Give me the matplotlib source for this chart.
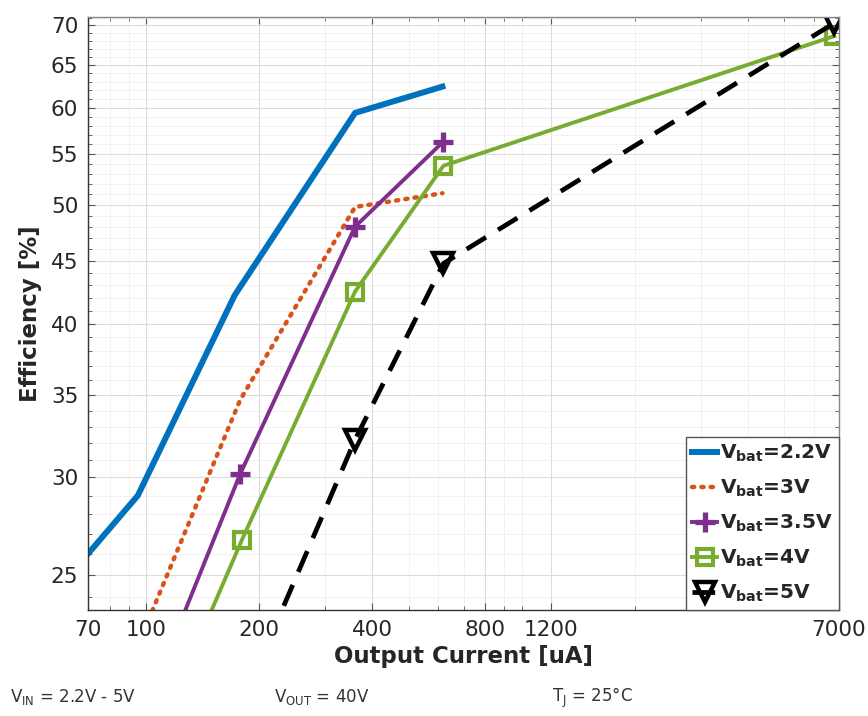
import matplotlib
matplotlib.use("Agg")
import matplotlib.pyplot as plt
from matplotlib.ticker import FixedLocator, NullFormatter, FixedFormatter

plt.rcParams['font.family'] = ['DejaVu Sans']

# Data
x_22 = [70, 95, 172, 360, 615]
y_22 = [26.0, 29.0, 42.2, 59.4, 62.4]

x_3 = [95, 178, 360, 615]
y_3 = [21.9, 34.7, 49.8, 51.1]

x_35 = [100, 178, 360, 619]
y_35 = [19.5, 30.2, 48.0, 56.3]

x_4 = [100, 180, 360, 619, 6800]
y_4 = [17.6, 26.7, 42.5, 53.8, 68.6]

x_5 = [178, 360, 619, 6800]
y_5 = [19.5, 32.2, 44.8, 70.3]

labels = [r'V$_{\mathbf{bat}}$=2.2V', r'V$_{\mathbf{bat}}$=3V', r'V$_{\mathbf{bat}}$=3.5V',
          r'V$_{\mathbf{bat}}$=4V', r'V$_{\mathbf{bat}}$=5V']
xticks = [70, 100, 200, 400, 800, 1200, 7000]
yticks = [25, 30, 35, 40, 45, 50, 55, 60, 65, 70]

fig = plt.figure(figsize=(8.68, 7.16), dpi=100)
ax = fig.add_axes([0.1014, 0.148, 0.8652, 0.8283])
ax.set_xscale('log')
ax.set_yscale('log')

ax.plot(x_22, y_22, color='#0072BD', lw=4.3, label=labels[0])
ax.plot(x_3, y_3, color='#D95319', lw=3.2, ls=(0, (0.5, 1.6)), dash_capstyle='round', label=labels[1])
ax.plot(x_35, y_35, color='#7E2F8E', lw=2.8, marker='+', ms=15, mew=3.8, label=labels[2])
ax.plot(x_4, y_4, color='#77AC30', lw=2.8, marker='s', ms=12, mew=3, mfc='none', label=labels[3])
ax.plot(x_5, y_5, color='black', lw=3.4, ls=(0, (4.8, 3.0)), marker='v', ms=14, mew=3.2, mfc='none', label=labels[4])

ax.set_xlim(70, 7000)
ax.set_ylim(23.4, 71.1)

ax.xaxis.set_major_locator(FixedLocator(xticks))
ax.xaxis.set_major_formatter(FixedFormatter([str(t) for t in xticks]))
xminor = [80, 90, 300, 500, 600, 700, 900, 1000, 2000, 3000, 4000, 5000, 6000]
ax.xaxis.set_minor_locator(FixedLocator(xminor))
ax.xaxis.set_minor_formatter(NullFormatter())
ax.yaxis.set_major_locator(FixedLocator(yticks))
ax.yaxis.set_major_formatter(FixedFormatter([str(t) for t in yticks]))
ax.yaxis.set_minor_locator(FixedLocator([v for v in range(24, 72) if v not in yticks]))
ax.yaxis.set_minor_formatter(NullFormatter())

ax.tick_params(which='both', direction='in', top=True, right=True, color='#555555')
ax.tick_params(which='major', length=5, labelsize=15.5, pad=7, labelcolor='#262626')
ax.tick_params(which='minor', length=3)

ax.grid(True, which='major', color='#dcdcdc', lw=0.8)
ax.grid(True, which='minor', color='#efefef', lw=0.6)
ax.set_axisbelow(True)
for s in ax.spines.values():
    s.set_color('#888888')
    s.set_linewidth(1.0)
ax.spines['bottom'].set_color('#333333')
ax.spines['left'].set_color('#333333')

ax.set_xlabel('Output Current [uA]', fontsize=16.5, fontweight='bold', color='#262626', labelpad=4)
ax.set_ylabel('Efficiency [%]', fontsize=16.5, fontweight='bold', color='#262626', labelpad=6)

leg = ax.legend(loc='lower right', fontsize=14.5, frameon=True, fancybox=False,
                borderpad=0.3, labelspacing=0.68, handlelength=1.25, handletextpad=0.15,
                borderaxespad=0.0, edgecolor='#555555', framealpha=1)
for t in leg.get_texts():
    t.set_fontweight('bold')
    t.set_color('#262626')

fig.text(0.012, 0.020, r'V$_{\mathrm{IN}}$ = 2.2V - 5V', fontsize=12, color='#333333')
fig.text(0.316, 0.020, r'V$_{\mathrm{OUT}}$ = 40V', fontsize=12, color='#333333')
fig.text(0.636, 0.020, r'T$_{\mathrm{J}}$ = 25°C', fontsize=12, color='#333333')

fig.savefig('out.png', dpi=100)
